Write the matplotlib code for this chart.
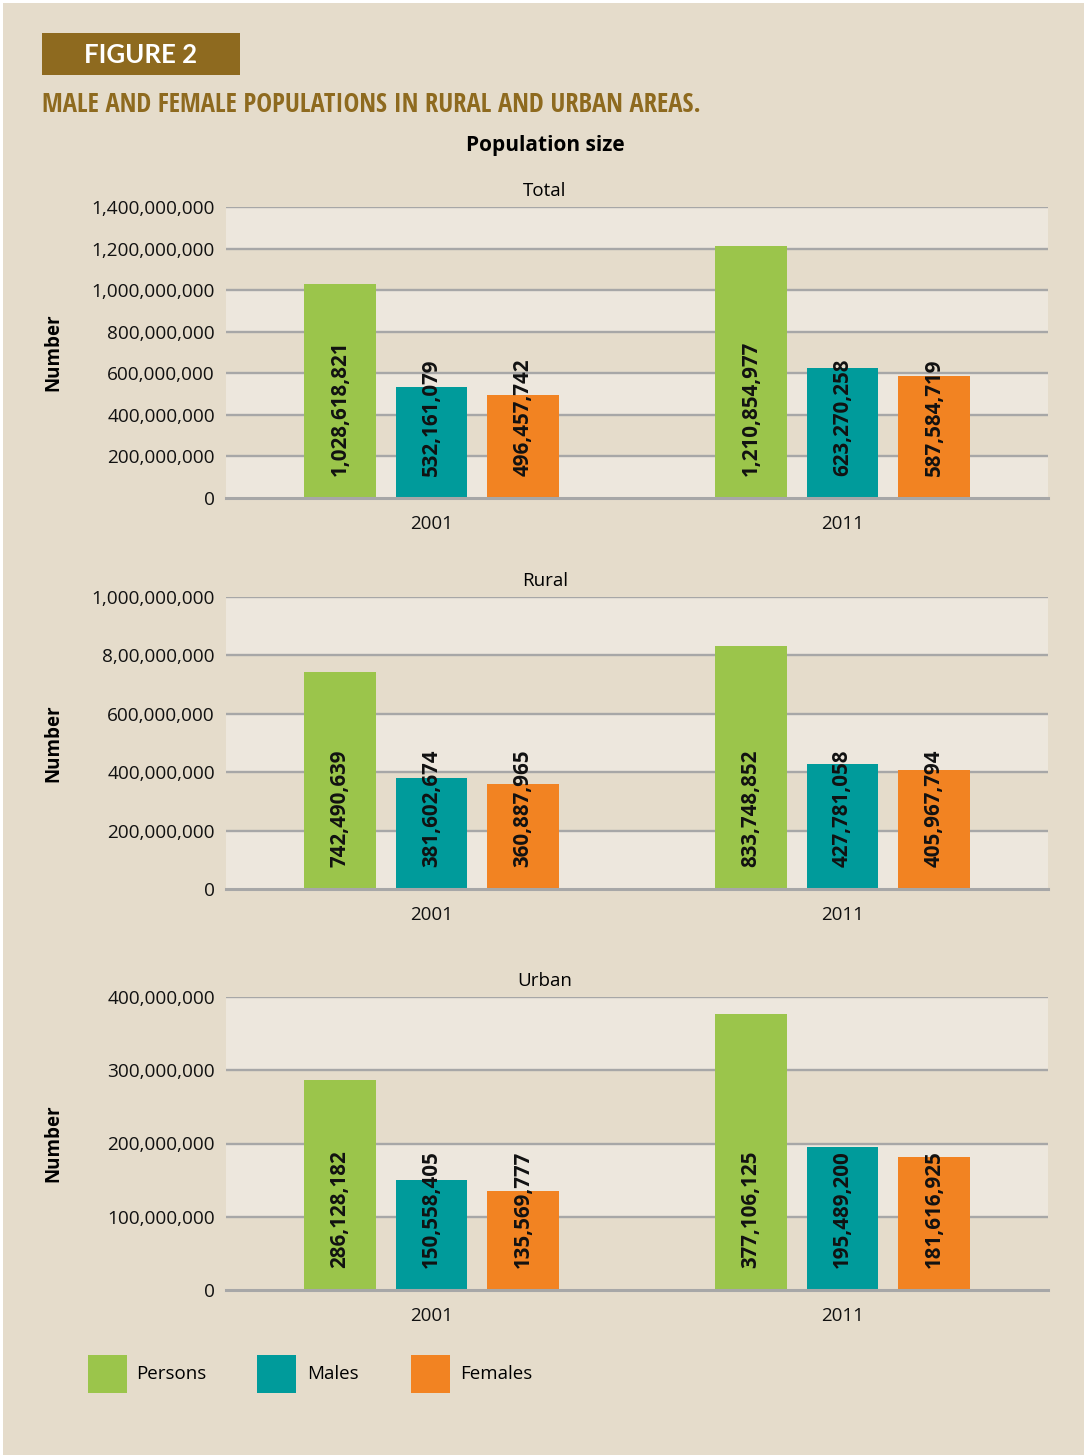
import numpy as np
import matplotlib
matplotlib.use('Agg')
import matplotlib.pyplot as plt
from matplotlib.patches import Rectangle

# データ
years = ['2001', '2011']
series_names = ['Persons', 'Males', 'Females']
total_values = [[1028618821, 532161079, 496457742],
                [1210854977, 623270258, 587584719]]
rural_values = [[742490639, 381602674, 360887965],
                [833748852, 427781058, 405967794]]
urban_values = [[286128182, 150558405, 135569777],
                [377106125, 195489200, 181616925]]
panel_titles = ['Total', 'Rural', 'Urban']
total_ticks = [0, 200e6, 400e6, 600e6, 800e6, 1000e6, 1200e6, 1400e6]
total_ticklabels = ['0', '200,000,000', '400,000,000', '600,000,000', '800,000,000',
                    '1,000,000,000', '1,200,000,000', '1,400,000,000']
rural_ticks = [0, 200e6, 400e6, 600e6, 800e6, 1000e6]
rural_ticklabels = ['0', '200,000,000', '400,000,000', '600,000,000', '8,00,000,000',
                    '1,000,000,000']
urban_ticks = [0, 100e6, 200e6, 300e6, 400e6]
urban_ticklabels = ['0', '100,000,000', '200,000,000', '300,000,000', '400,000,000']

colors = ['#9bc54b', '#009b9b', '#f28322']
bg = '#e5dccb'
band = '#ede7dd'
grid_c = '#a7a7a7'
brown = '#8e6a1f'

W, H = 1084, 1455
fig = plt.figure(figsize=(W / 100, H / 100), dpi=100)
fig.patch.set_facecolor('white')

def fx(px):
    return px / W

def fy(py):
    return 1 - py / H

# 背景（axesより下に描く）
fig.patches.append(Rectangle((fx(3), 0), 1, fy(3), transform=fig.transFigure,
                             facecolor=bg, edgecolor='none', zorder=-5))

# 見出し
fig.patches.append(Rectangle((fx(42), fy(75)), fx(240) - fx(42), fy(33) - fy(75),
                             transform=fig.transFigure, facecolor=brown,
                             edgecolor='none', zorder=-4))
fig.text(fx(141), fy(55), 'FIGURE 2', color='white', fontsize=18.5, fontweight='bold',
         family='Lato', ha='center', va='center')
fig.text(fx(42), fy(104), 'MALE AND FEMALE POPULATIONS IN RURAL AND URBAN AREAS.',
         color=brown, fontsize=19.2, fontweight='bold', family='Open Sans Condensed',
         ha='left', va='center')
fig.text(fx(545), fy(145), 'Population size', fontsize=15, fontweight='bold',
         family='Open Sans', ha='center', va='center')

panels = [
    (total_values, total_ticks, total_ticklabels, 207, 498, 190),
    (rural_values, rural_ticks, rural_ticklabels, 597, 889, 580),
    (urban_values, urban_ticks, urban_ticklabels, 997, 1290, 980),
]

x = np.arange(len(years))
offsets = [-0.2225, 0, 0.2225]
bw = 0.175

for (vals, ticks, ticklabels, top, bot, title_y), title in zip(panels, panel_titles):
    ax = fig.add_axes([fx(226), fy(bot), fx(1048) - fx(226), fy(top) - fy(bot)])
    ax.set_facecolor(bg)
    ymax = ticks[-1]
    # 交互の帯（上から明るい色）
    n = len(ticks) - 1
    for k in range(n):
        if k % 2 == 0:
            ax.axhspan(ticks[n - k - 1], ticks[n - k], color=band, zorder=0, lw=0)
    for t in ticks[1:]:
        ax.axhline(t, color=grid_c, lw=1.7, zorder=1)

    vals = np.array(vals)
    for j in range(len(series_names)):
        ax.bar(x + offsets[j], vals[:, j], width=bw, color=colors[j], zorder=2,
               label=series_names[j])
        for i in range(len(years)):
            ax.annotate(f'{vals[i, j]:,}', xy=(x[i] + offsets[j], 0), xytext=(0, 16),
                        textcoords='offset points', rotation=90, ha='center', va='bottom',
                        fontsize=14.8, fontweight='bold', family='Open Sans',
                        color='#111111', zorder=3)

    ax.set_xlim(-0.5, 1.5)
    ax.set_ylim(0, ymax)
    ax.set_yticks(ticks)
    ax.set_yticklabels(ticklabels, family='Open Sans', fontsize=13.7)
    ax.set_xticks(x)
    ax.set_xticklabels(years, family='Open Sans', fontsize=13.5)
    ax.tick_params(axis='both', length=0, colors='#111111')
    ax.tick_params(axis='y', pad=8)
    ax.tick_params(axis='x', pad=12)
    for s in ['top', 'right', 'left']:
        ax.spines[s].set_visible(False)
    ax.spines['bottom'].set_color(grid_c)
    ax.spines['bottom'].set_linewidth(2.2)
    ax.spines['bottom'].set_zorder(4)

    fig.text(fx(545), fy(title_y + 1), title, fontsize=13.5, family='Open Sans',
             ha='center', va='center')
    fig.text(fx(53), fy((top + bot) / 2), 'Number', fontsize=13.5, fontweight='bold',
             family='Open Sans', rotation=90, ha='center', va='center')

# 凡例
legend_pos = [(88, 136), (257, 307), (411, 460)]
for (sx, tx), name, c in zip(legend_pos, series_names, colors):
    fig.patches.append(Rectangle((fx(sx), fy(1393)), fx(39), fy(1355) - fy(1393),
                                 transform=fig.transFigure, facecolor=c,
                                 edgecolor='none', zorder=1))
    fig.text(fx(tx), fy(1374), name, fontsize=13.5, family='Open Sans',
             ha='left', va='center')

fig.savefig('out.png', dpi=100, facecolor=fig.get_facecolor())
